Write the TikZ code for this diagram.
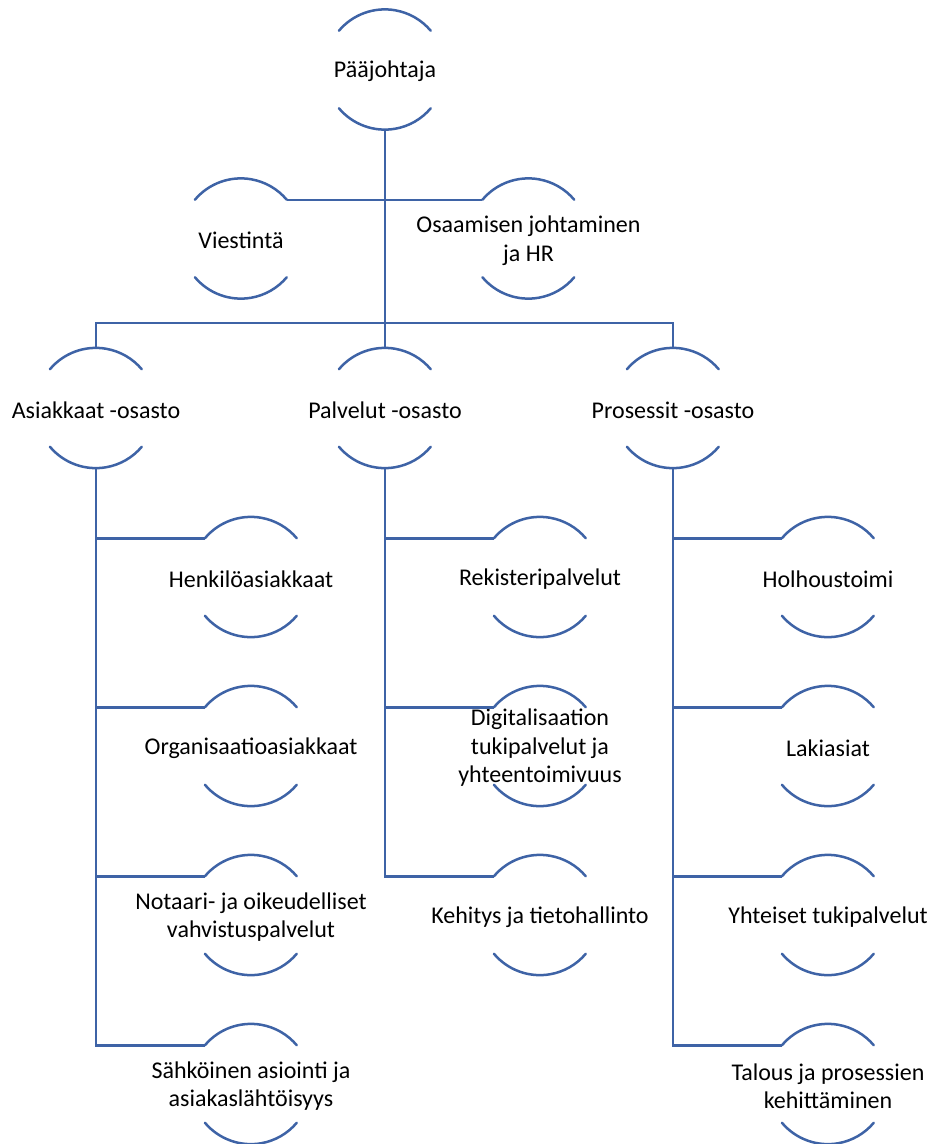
\documentclass[tikz,border=0pt]{standalone}
\usepackage{fontspec}
\setmainfont{Carlito}
\definecolor{linkblue}{RGB}{62,99,166}
\begin{document}
\begin{tikzpicture}[x=1pt,y=-1pt,
  ring/.style={circle,minimum size=120pt,inner sep=0pt,draw=none},
  lbl/.style={align=center,inner sep=0pt,yshift=-2pt,font=\fontsize{24}{28.5}\selectfont,text=black},
  link/.style={draw=linkblue,line width=2.5pt},
  arcline/.style={draw=linkblue,line width=2.5pt,line cap=round}]
\useasboundingbox (0,0) rectangle (930,1144);

% unit: two arcs of a circle around a label
\newcommand{\unit}[4]{%
  \node[ring] (#1) at (#2,#3) {};
  \node[lbl] (#1-t) at (#1) {#4};
  \draw[arcline] (#1.140) arc[start angle=140,end angle=40,radius=60pt];
  \draw[arcline] (#1.220) arc[start angle=220,end angle=320,radius=60pt];
}

% top
\unit{pj}{385}{69.5}{Pääjohtaja}
% staff
\unit{vi}{241}{238.5}{Viestintä}
\unit{os}{528.5}{238.5}{Osaamisen johtaminen\\ja HR}
% departments
\unit{asi}{96}{408}{Asiakkaat -osasto}
\unit{pal}{385}{408}{Palvelut -osasto}
\unit{pro}{673}{408}{Prosessit -osasto}
% units of Asiakkaat
\unit{a1}{251}{577}{Henkilöasiakkaat}
\unit{a2}{251}{746}{Organisaatioasiakkaat}
\unit{a3}{251}{915}{Notaari- ja oikeudelliset\\vahvistuspalvelut}
\unit{a4}{251}{1084}{Sähköinen asiointi ja\\asiakaslähtöisyys}
% units of Palvelut
\unit{p1}{540}{577}{Rekisteripalvelut}
\unit{p2}{540}{746}{Digitalisaation\\tukipalvelut ja\\yhteentoimivuus}
\unit{p3}{540}{915}{Kehitys ja tietohallinto}
% units of Prosessit
\unit{r1}{828}{577}{Holhoustoimi}
\unit{r2}{828}{746}{Lakiasiat}
\unit{r3}{828}{915}{Yhteiset tukipalvelut}
\unit{r4}{828}{1084}{Talous ja prosessien\\kehittäminen}

% connectors
\coordinate (bus) at (385,323);
\draw[link] (pj.south) -- (pal.north);
\draw[link] (vi.40) -- (os.140);
\draw[link] (asi.north) |- (bus) -| (pro.north);

\foreach \c in {a1,a2,a3,a4} \draw[link] (asi.south) |- (\c.140);
\foreach \c in {p1,p2,p3} \draw[link] (pal.south) |- (\c.140);
\foreach \c in {r1,r2,r3,r4} \draw[link] (pro.south) |- (\c.140);
\end{tikzpicture}
\end{document}
